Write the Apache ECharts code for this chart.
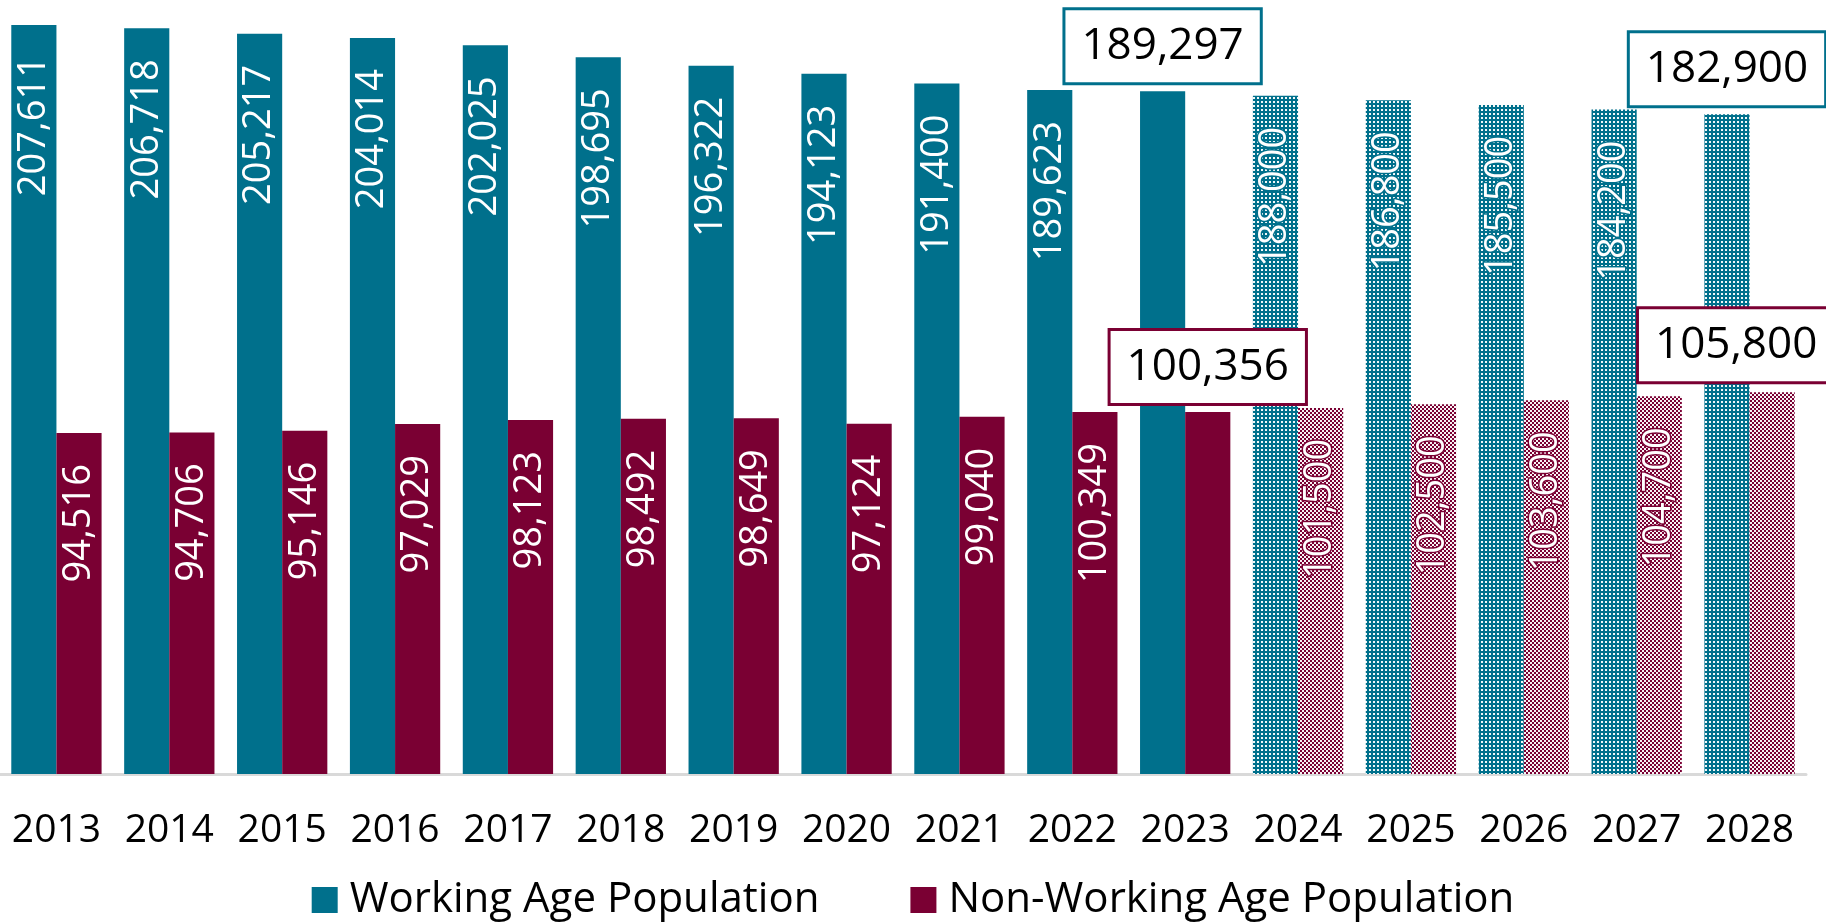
<!DOCTYPE html>
<html>
<head>
<meta charset="utf-8">
<script src="https://cdn.jsdelivr.net/npm/echarts@6/dist/echarts.min.js"></script>
<style>
html,body{margin:0;padding:0;background:#fff;}
#chart{width:1826px;height:923px;}
</style>
</head>
<body>
<div id="chart"></div>
<script>
const years = ['2013','2014','2015','2016','2017','2018','2019','2020','2021','2022','2023','2024','2025','2026','2027','2028'];
const working = [207611,206718,205217,204014,202025,198695,196322,194123,191400,189623,189297,188000,186800,185500,184200,182900];
const nonWorking = [94516,94706,95146,97029,98123,98492,98649,97124,99040,100349,100356,101500,102500,103600,104700,105800];
const forecastYears = ['2024','2025','2026','2027','2028'];
const boxedYears = ['2023','2028'];
const seriesNames = ['Working Age Population','Non-Working Age Population'];

const TEAL = '#00708C';
const MAROON = '#7A0033';
const FONT = '"Open Sans", "Noto Sans", sans-serif';

function makePattern(color, dense) {
  const c = document.createElement('canvas');
  c.width = 4; c.height = 4;
  const ctx = c.getContext('2d');
  ctx.fillStyle = color;
  ctx.fillRect(0, 0, 4, 4);
  ctx.fillStyle = 'rgba(255,255,255,0.95)';
  if (dense) {
    ctx.fillRect(0, 0, 2, 2);
    ctx.fillRect(2, 2, 2, 2);
  } else {
    ctx.fillRect(1, 1, 2, 2);
  }
  return { image: c, repeat: 'repeat' };
}

function buildData(values, color, pattern, boxOffset) {
  return values.map((v, i) => {
    const y = years[i];
    const item = { value: v };
    if (forecastYears.includes(y)) {
      item.itemStyle = { color: pattern };
    }
    if (boxedYears.includes(y)) {
      item.label = {
        show: true,
        position: 'top',
        rotate: 0,
        distance: 9,
        align: 'center',
        verticalAlign: 'bottom',
        offset: (y === '2028') ? boxOffset : [0, 0],
        color: '#000',
        fontSize: 44,
        lineHeight: 48,
        fontFamily: FONT,
        backgroundColor: '#fff',
        borderColor: color,
        borderWidth: 3,
        padding: [12, 16, 12, 16],
        textBorderWidth: 0
      };
    } else if (forecastYears.includes(y)) {
      item.label = { textBorderColor: color, textBorderWidth: 3 };
    }
    return item;
  });
}

const insideLabel = {
  show: true,
  position: 'insideTop',
  rotate: 90,
  align: 'right',
  verticalAlign: 'middle',
  distance: 31,
  color: '#fff',
  fontSize: 38,
  fontFamily: FONT,
  formatter: p => p.value.toLocaleString('en-US')
};

const chart = echarts.init(document.getElementById('chart'), null, { renderer: 'canvas' });
chart.setOption({
  animation: false,
  backgroundColor: '#fff',
  grid: { left: 0, right: 20, top: 16.5, bottom: 149, containLabel: false },
  legend: {
    data: seriesNames,
    top: 874,
    left: 'center',
    icon: 'rect',
    itemWidth: 26,
    itemHeight: 26,
    itemGap: 91,
    textStyle: { fontSize: 42, color: '#000', fontFamily: FONT, padding: [0, 0, 0, 7] }
  },
  xAxis: {
    type: 'category',
    data: years,
    axisLine: { show: true, lineStyle: { color: '#d9d9d9', width: 3 } },
    axisTick: { show: false },
    axisLabel: { color: '#000', fontSize: 39, fontFamily: FONT, margin: 37, interval: 0 }
  },
  yAxis: {
    type: 'value',
    min: 0,
    max: 210000,
    show: false,
    splitLine: { show: false }
  },
  series: [
    {
      name: seriesNames[0],
      type: 'bar',
      barGap: '0%',
      barCategoryGap: '20%',
      itemStyle: { color: TEAL },
      label: insideLabel,
      data: buildData(working, TEAL, makePattern(TEAL, false), [0, 0])
    },
    {
      name: seriesNames[1],
      type: 'bar',
      barGap: '0%',
      barCategoryGap: '20%',
      itemStyle: { color: MAROON },
      label: insideLabel,
      data: buildData(nonWorking, MAROON, makePattern(MAROON, true), [-36, -2])
    }
  ]
});
</script>
</body>
</html>
